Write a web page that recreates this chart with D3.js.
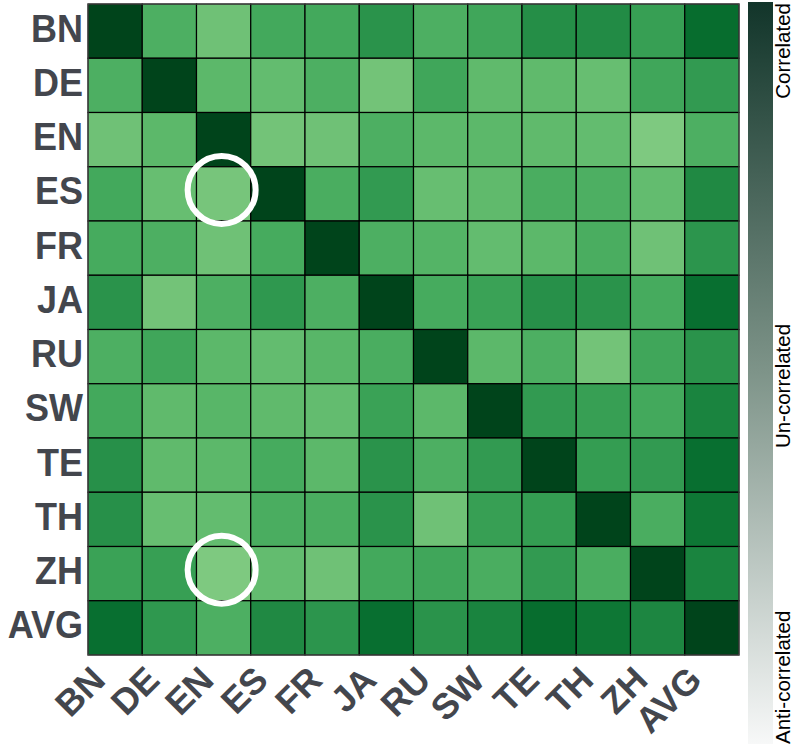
<!DOCTYPE html>
<html>
<head>
<meta charset="utf-8">
<script src="https://cdn.jsdelivr.net/npm/d3@7"></script>
<style>
  body { margin: 0; background: #fff; }
  svg { display: block; font-family: "Liberation Sans", Arial, sans-serif; }
</style>
</head>
<body>
<div id="chart"></div>
<script>
const width = 793;
const height = 746;

const languages = ["BN", "DE", "EN", "ES", "FR", "JA", "RU", "SW", "TE", "TH", "ZH", "AVG"];

// correlation values, one row per language (same order as columns)
const rowBN  = [1.00, 0.20, 0.02, 0.26, 0.26, 0.44, 0.20, 0.28, 0.48, 0.50, 0.34, 0.74];
const rowDE  = [0.20, 1.00, 0.12, 0.08, 0.20, 0.00, 0.28, 0.10, 0.10, 0.06, 0.28, 0.38];
const rowEN  = [0.02, 0.12, 1.00, 0.00, 0.02, 0.20, 0.12, 0.12, 0.10, 0.08, -0.06, 0.20];
const rowES  = [0.26, 0.06, -0.02, 1.00, 0.22, 0.38, 0.06, 0.10, 0.22, 0.20, 0.08, 0.52];
const rowFR  = [0.24, 0.20, 0.02, 0.24, 1.00, 0.20, 0.16, 0.08, 0.12, 0.22, 0.02, 0.42];
const rowJA  = [0.44, 0.00, 0.20, 0.40, 0.20, 1.00, 0.24, 0.32, 0.46, 0.44, 0.24, 0.72];
const rowRU  = [0.20, 0.28, 0.12, 0.08, 0.14, 0.22, 1.00, 0.12, 0.20, 0.00, 0.28, 0.44];
const rowSW  = [0.26, 0.10, 0.14, 0.10, 0.08, 0.32, 0.12, 1.00, 0.38, 0.34, 0.26, 0.56];
const rowTE  = [0.46, 0.10, 0.12, 0.24, 0.12, 0.44, 0.20, 0.38, 1.00, 0.36, 0.38, 0.72];
const rowTH  = [0.46, 0.06, 0.08, 0.22, 0.22, 0.44, 0.02, 0.34, 0.36, 1.00, 0.22, 0.66];
const rowZH  = [0.32, 0.34, -0.06, 0.08, 0.02, 0.26, 0.28, 0.22, 0.38, 0.22, 1.00, 0.56];
const rowAVG = [0.72, 0.40, 0.20, 0.52, 0.42, 0.72, 0.44, 0.56, 0.74, 0.66, 0.54, 1.00];

const matrix = [rowBN, rowDE, rowEN, rowES, rowFR, rowJA, rowRU, rowSW, rowTE, rowTH, rowZH, rowAVG];

// cells highlighted with a white ring: [row, column]
const highlighted = [["ES", "EN"], ["ZH", "EN"]];

const colorbarLabels = ["Anti-correlated", "Un-correlated", "Correlated"];

const cells = [];
matrix.forEach((row, i) => {
  row.forEach((v, j) => {
    cells.push({ row: languages[i], col: languages[j], value: v });
  });
});

const svg = d3
  .select("#chart")
  .append("svg")
  .attr("width", width)
  .attr("height", height);

const x = d3.scaleBand().domain(languages).range([88, 739]);
const y = d3.scaleBand().domain(languages).range([4, 655]);
const color = d3.scaleSequential(d3.interpolateGreens).domain([-1, 1]);

svg
  .append("g")
  .selectAll("rect")
  .data(cells)
  .join("rect")
  .attr("x", (d) => x(d.col))
  .attr("y", (d) => y(d.row))
  .attr("width", x.bandwidth())
  .attr("height", y.bandwidth())
  .attr("fill", (d) => color(d.value))
  .attr("stroke", "#000")
  .attr("stroke-width", 1.2);

svg
  .append("rect")
  .attr("x", 88)
  .attr("y", 4)
  .attr("width", 651)
  .attr("height", 651)
  .attr("fill", "none")
  .attr("stroke", "#555")
  .attr("stroke-width", 1);

// rings
svg
  .append("g")
  .selectAll("circle")
  .data(highlighted)
  .join("circle")
  .attr("cx", (d) => x(d[1]) + x.bandwidth() / 2 - 2)
  .attr("cy", (d) => y(d[0]) + y.bandwidth() / 2 - 4)
  .attr("r", 34)
  .attr("fill", "none")
  .attr("stroke", "#fff")
  .attr("stroke-width", 6);

// y labels (slightly tall glyphs, sitting a little above the row centre)
svg
  .append("g")
  .selectAll("text")
  .data(languages)
  .join("text")
  .attr("transform", (d) => `translate(83,${y(d) + y.bandwidth() / 2 + 10.5}) scale(1,1.07)`)
  .attr("text-anchor", "end")
  .attr("font-size", 36)
  .attr("font-weight", "bold")
  .attr("fill", "#43464d")
  .text((d) => d);

// x labels, rotated 45 degrees, ending just left of the cell centre
svg
  .append("g")
  .selectAll("text")
  .data(languages)
  .join("text")
  .attr("transform", (d) => `translate(${x(d) + x.bandwidth() / 2 - 8},${682}) rotate(-45)`)
  .attr("text-anchor", "end")
  .attr("font-size", 36)
  .attr("font-weight", "bold")
  .attr("fill", "#43464d")
  .text((d) => d);

// colorbar
const defs = svg.append("defs");
const grad = defs
  .append("linearGradient")
  .attr("id", "cbar")
  .attr("x1", 0)
  .attr("y1", 1)
  .attr("x2", 0)
  .attr("y2", 0);
grad.append("stop").attr("offset", "0%").attr("stop-color", "#f7f8f8");
grad.append("stop").attr("offset", "50%").attr("stop-color", "#7e9489");
grad.append("stop").attr("offset", "100%").attr("stop-color", "#12352a");

const cbTop = 2;
const cbBottom = 744;
svg
  .append("rect")
  .attr("x", 748)
  .attr("y", cbTop)
  .attr("width", 25)
  .attr("height", cbBottom - cbTop)
  .attr("fill", "url(#cbar)");

const cbScale = d3.scaleLinear().domain([-1, 1]).range([cbBottom, cbTop]);
const cbLabelPos = [
  { text: colorbarLabels[0], y: cbScale(-1), anchor: "start" },
  { text: colorbarLabels[1], y: cbScale(0) + 13, anchor: "middle" },
  { text: colorbarLabels[2], y: cbScale(1) + 1, anchor: "end" },
];

svg
  .append("g")
  .selectAll("text")
  .data(cbLabelPos)
  .join("text")
  .attr("transform", (d) => `translate(790,${d.y}) rotate(-90)`)
  .attr("text-anchor", (d) => d.anchor)
  .attr("font-size", 20.5)
  .attr("fill", "#000")
  .text((d) => d.text);
</script>
</body>
</html>
